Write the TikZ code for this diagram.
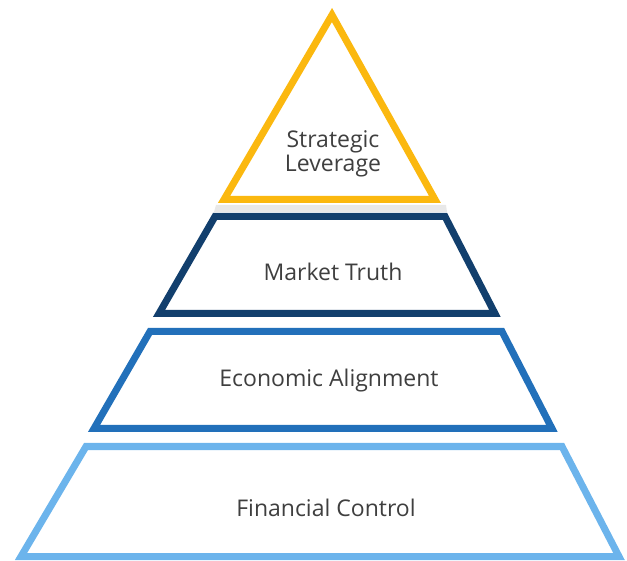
\documentclass[tikz,border=0pt]{standalone}
\usepackage{fontspec}
\setmainfont{Open Sans}
\definecolor{tierGold}{HTML}{FBB80F}
\definecolor{tierNavy}{HTML}{123F6D}
\definecolor{tierBlue}{HTML}{2270BA}
\definecolor{tierSky}{HTML}{6CB4EC}
\definecolor{labelGrey}{HTML}{3F3F3F}
\definecolor{bandGrey}{HTML}{E8E8E8}
\begin{document}
\begin{tikzpicture}[x=1pt,y=-1pt,
  tier/.style={line width=7pt,line join=miter,fill=white,draw=#1},
  tierlabel/.style={font=\fontsize{23}{23.5}\selectfont,text=labelGrey,align=center,inner sep=0pt}]
\useasboundingbox (0,0) rectangle (627,561);
% light band under the top triangle
\fill[bandGrey] (216,205) -- (446,205) -- (447,212) -- (214,212) -- cycle;
% pyramid tiers, top to bottom
\path[tier=tierGold] (332,15) -- (435,199.5) -- (224,199.5) -- cycle;
\path[tier=tierNavy] (215,216.5) -- (445,216.5) -- (495,313.5) -- (159,313.5) -- cycle;
\path[tier=tierBlue] (150,331.5) -- (502,331.5) -- (552,428.5) -- (94,428.5) -- cycle;
\path[tier=tierSky] (86,446.5) -- (562,446.5) -- (619,556.5) -- (21,556.5) -- cycle;
% labels
\node[tierlabel] (lev) at (333,154) {Strategic\\Leverage};
\node[tierlabel] (mkt) at (333,272) {Market Truth};
\node[tierlabel] (eco) at (329,381) {Economic Alignment};
\node[tierlabel] (fin) at (326,508) {Financial Control};
\end{tikzpicture}
\end{document}
